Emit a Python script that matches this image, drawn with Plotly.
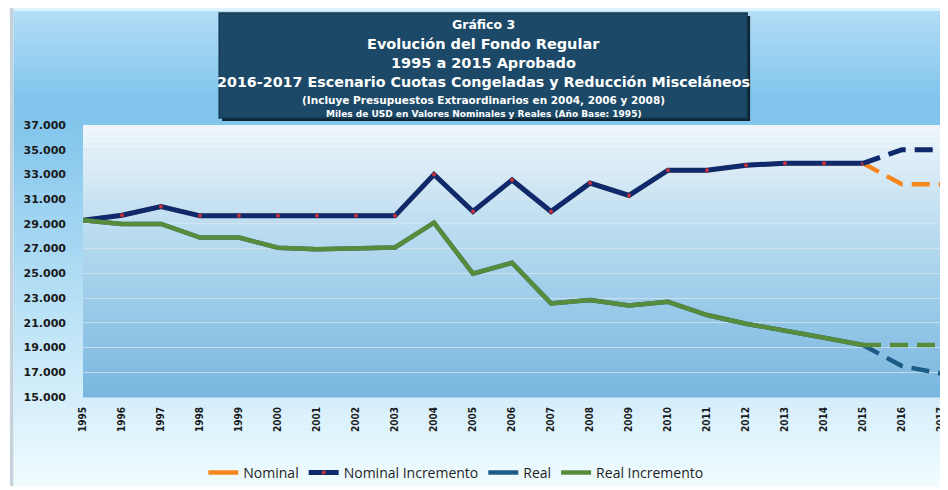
import plotly.graph_objects as go

years = list(range(1995, 2018))

nominal = [29300, 29700, 30400, 29650, 29650, 29650, 29650, 29650, 29650, 33000,
           30000, 32550, 30000, 32300, 31300, 33350, 33350, 33750, 33900, 33900,
           33900, 32200, 32200]
nominal_incremento = [29300, 29700, 30400, 29650, 29650, 29650, 29650, 29650, 29650, 33000,
                      30000, 32550, 30000, 32300, 31300, 33350, 33350, 33750, 33900, 33900,
                      33900, 35000, 35000]
real = [29300, 29000, 29000, 27900, 27900, 27070, 26950, 27050, 27100, 29100,
        24970, 25860, 22570, 22840, 22410, 22700, 21630, 20930, 20390, 19790,
        19200, 17500, 16900]
real_incremento = [29300, 29000, 29000, 27900, 27900, 27070, 26950, 27050, 27100, 29100,
                   24970, 25860, 22570, 22840, 22410, 22700, 21630, 20930, 20390, 19790,
                   19200, 19200, 19200]

y_tickvals = list(range(15000, 37001, 2000))
y_ticktext = ["15.000", "17.000", "19.000", "21.000", "23.000", "25.000",
              "27.000", "29.000", "31.000", "33.000", "35.000", "37.000"]

title_lines = [
    "Gráfico 3",
    "Evolución del Fondo Regular",
    "1995 a 2015 Aprobado",
    "2016-2017 Escenario Cuotas Congeladas y Reducción Misceláneos",
    "(Incluye Presupuestos Extraordinarios en 2004, 2006 y 2008)",
    "Miles de USD en Valores Nominales y Reales (Año Base: 1995)",
]
legend_names = ["Nominal", "Nominal Incremento", "Real", "Real Incremento"]

# ---- geometry (page has an 8px body margin) ----
OFF = 8
W, H = 940, 482
L, R, T, B = 75, 2, 117, 93
PW = W - L - R
PH = H - T - B


def px(xr):
    # reference-screen x -> paper
    return (xr - OFF - L) / PW


def py(yr):
    return (H - B - (yr - OFF)) / PH


def hexrgb(h):
    h = h.lstrip("#")
    return tuple(int(h[i:i + 2], 16) for i in (0, 2, 4))


def interp(stops, y):
    for (y0, c0), (y1, c1) in zip(stops, stops[1:]):
        if y0 <= y <= y1:
            t = (y - y0) / (y1 - y0) if y1 > y0 else 0
            a, b = hexrgb(c0), hexrgb(c1)
            return "rgb(%d,%d,%d)" % tuple(round(a[i] + (b[i] - a[i]) * t) for i in range(3))
    return stops[-1][1]


shapes = []


def gradient(x0, x1, y0, y1, stops, n):
    step = (y1 - y0) / n
    for i in range(n):
        ya = y0 + i * step
        yb = ya + step + 0.6
        col = interp(stops, ya + step / 2)
        shapes.append(dict(type="rect", xref="paper", yref="paper",
                           x0=px(x0), x1=px(x1), y0=py(yb), y1=py(ya),
                           fillcolor=col, line=dict(width=0), layer="below"))


# outer chart background
outer_stops = [(8, "#b4def7"), (100, "#80c4ec"), (130, "#84c6ec"),
               (397, "#d4eefb"), (490, "#f2fdff")]
gradient(13, 960, 8, 486, outer_stops, 80)
shapes.append(dict(type="rect", xref="paper", yref="paper", x0=px(13), x1=px(960),
                   y0=py(11), y1=py(8), fillcolor="#dff3fc", line=dict(width=0), layer="below"))
# left gray edge
shapes.append(dict(type="rect", xref="paper", yref="paper", x0=px(9.5), x1=px(13),
                   y0=py(486), y1=py(8), fillcolor="#c5d2db", line=dict(width=0), layer="below"))
# plot area gradient
plot_stops = [(125, "#f0f7fc"), (200, "#c9e3f3"), (300, "#9dcce9"), (397, "#78b7df")]
gradient(83, 946, 125, 397, plot_stops, 60)

# title box
shapes.append(dict(type="rect", xref="paper", yref="paper",
                   x0=px(223), x1=px(754), y0=py(121), y1=py(16),
                   fillcolor="#0d2535", line=dict(width=0), layer="above"))
shapes.append(dict(type="rect", xref="paper", yref="paper",
                   x0=px(220), x1=px(751), y0=py(118), y1=py(13),
                   fillcolor="#1c4967", line=dict(color="#143a52", width=1.5), layer="above"))

annotations = []
title_specs = [(24, 12.5), (44, 14.5), (63, 14.5), (82, 14.3), (100, 10.5), (114, 9)]
for text, (ypix, size) in zip(title_lines, title_specs):
    annotations.append(dict(text=text, xref="paper", yref="paper", x=px(486), y=py(ypix),
                            xanchor="center", yanchor="middle", showarrow=False,
                            font=dict(family="DejaVu Sans", size=size, color="white", weight="bold")))

fig = go.Figure()

dash = "18px,9px"
colors = ["#f7861c", "#0f2a6c", "#1d5b87", "#578c3c"]
series = [nominal, nominal_incremento, real, real_incremento]
widths = [4.5, 5, 4.5, 4.5]
split = years.index(2015)

for name, vals, col, w in zip(legend_names, series, colors, widths):
    is_ni = name == "Nominal Incremento"
    mode = "lines+markers" if is_ni else "lines"
    marker = dict(color="#c8323a", size=4) if is_ni else None
    fig.add_trace(go.Scatter(x=years[:split + 1], y=vals[:split + 1], name=name,
                             mode=mode, line=dict(color=col, width=w),
                             marker=marker, legendgroup=name, showlegend=True))
    fig.add_trace(go.Scatter(x=years[split:], y=vals[split:], name=name,
                             mode="lines", line=dict(color=col, width=w, dash=dash),
                             legendgroup=name, showlegend=False))

fig.update_layout(
    width=W, height=H,
    margin=dict(l=L, r=R, t=T, b=B, pad=0),
    paper_bgcolor="white",
    plot_bgcolor="rgba(0,0,0,0)",
    shapes=shapes,
    annotations=annotations,
    showlegend=True,
    legend=dict(orientation="h", xref="paper", x=px(458), yref="container",
                y=1 - (473 - OFF) / H, xanchor="center", yanchor="middle",
                font=dict(family="Open Sans", size=14, color="#1e1e1e"),
                bgcolor="rgba(0,0,0,0)", itemwidth=30, tracegroupgap=0),
    xaxis=dict(range=[1995, 2017], tickmode="array", tickvals=years,
               ticktext=[str(y) for y in years], tickangle=-90,
               tickfont=dict(family="Liberation Sans Narrow, DejaVu Sans Condensed", size=10,
                             color="#1a1a1a", weight="bold"),
               showgrid=False, zeroline=False, showline=False, ticks="",
               ticklabelstandoff=7, ticklabeloverflow="allow"),
    yaxis=dict(range=[15000, 37000], tickmode="array", tickvals=y_tickvals,
               ticktext=y_ticktext,
               tickfont=dict(family="DejaVu Sans", size=11, color="#1a1a1a", weight="bold"),
               showgrid=True, gridcolor="rgba(218,228,238,0.75)", gridwidth=1,
               zeroline=False, showline=False, ticks="", ticklabelstandoff=16),
)

fig.write_html("out.html")
